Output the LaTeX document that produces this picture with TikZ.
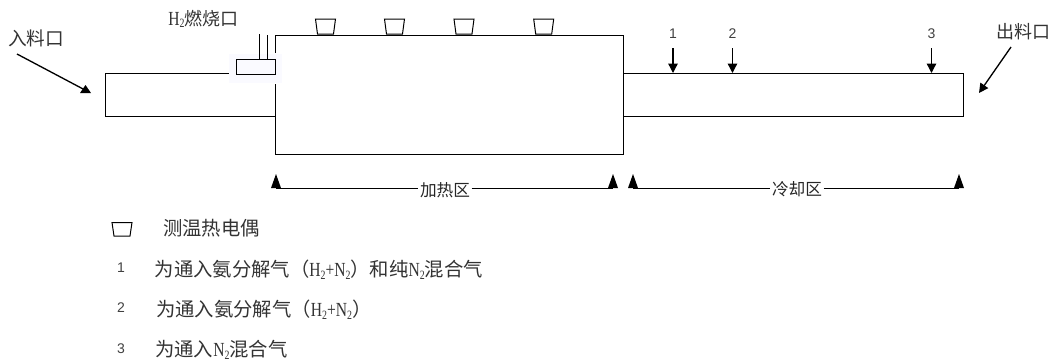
\documentclass[tikz,border=0pt]{standalone}
\usepackage{fontspec}
\setmainfont{Liberation Serif}
\newfontfamily\cjk{Noto Sans CJK SC}
\newfontfamily\dig{Liberation Sans}
\newfontfamily\latf[FakeStretch=0.78]{Liberation Serif}
\usetikzlibrary{arrows.meta}
\newcommand{\subtwo}{\raisebox{-0.3ex}{\fontsize{9.5}{10}\selectfont 2}}
\newcommand{\lat}{\fontsize{15}{16}\selectfont\latf}
\newcommand{\han}{\fontsize{14.5}{16}\selectfont\cjk}
\tikzset{
  x=0.75pt,y=-0.75pt,
  line/.style={draw=black,line width=0.75pt},
  txt/.style={inner sep=0pt,font=\fontsize{13.5}{15}\selectfont\cjk,text=black!80},
  legend/.style={inner sep=0pt,font=\han,text=black!80},
  zone/.style={inner sep=1pt,font=\fontsize{12.5}{14}\selectfont\cjk,text=black!85},
  num/.style={inner sep=0pt,font=\fontsize{10.5}{12}\selectfont\dig,text=black!75},
  arrow/.style={draw=black,line width=1pt,-{Triangle[length=7pt,width=7pt]}},
  plain/.style={draw=black,line width=1pt},
  tc/.style={line,fill=white},
  tip/.style={fill=black,draw=none},
}
\newcommand{\couple}[2]{\draw[tc] (#1-10,#2) -- (#1+10,#2) -- (#1+8,#2+15) -- (#1-8,#2+15) -- cycle;}
\begin{document}
\begin{tikzpicture}
\useasboundingbox (0,0) rectangle (1054,362);
% tubes and furnace
\coordinate (lt) at (105,73.5); \coordinate (lb) at (275.5,116);
\draw[line] (229,73.5) -- (lt) |- (lb);
\draw[line] (275.5,53) -- (275.5,35) -- (623,35) -- (623,154.5) -- (275.5,154.5) -- (275.5,84);
\draw[line] (623,73.5) -- (963,73.5) -- (963,116) -- (623,116);
% burner
\fill[blue!2] (229,54) rectangle (282,83);
\draw[line] (275.5,36) -- (275.5,53);
\node[line,fill=blue!2,minimum width=29.5pt,minimum height=11pt,inner sep=0pt,anchor=north west] (burner) at (235.5,59) {};
\coordinate (p1) at (259.5,34); \coordinate (p2) at (267.5,35);
\draw[line] (p1) -- (p1 |- burner.north);
\draw[line] (p2) -- (p2 |- burner.north);
\node[txt,anchor=west] (burnlab) at (168,19) {\lat H\subtwo{}\fontsize{13.5}{15}\selectfont\cjk 燃烧口};
% thermocouples
\couple{325.5}{19}
\couple{394.5}{19}
\couple{464}{19}
\couple{543.7}{19}
% labels and arrows
\node[txt,anchor=west,font=\fontsize{14}{15}\selectfont\cjk] (in) at (8,38) {入料口};
\coordinate (ina) at (17,54); \coordinate (inb) at (85,90);
\draw[plain] (ina) -- (inb);
\path[tip] (80,93) -- (85.5,85) -- (91,93) -- cycle;
\node[txt] (out) at (1023,32) {出料口};
\coordinate (outa) at (1011,47); \coordinate (outb) at (979,93);
\draw[arrow] (outa) -- (outb);
\foreach \n/\x in {1/673,2/732.5,3/931.5}{
  \node[num] (g\n) at (\x,33.5) {\n};
  \coordinate (ga\n) at (\x,48); \coordinate (gb\n) at (\x,73);
  \draw[arrow] (ga\n) -- (gb\n);
}
% zones
\node[zone] (heat) at (445,190) {加热区};
\node[zone] (cool) at (797,189.5) {冷却区};
\coordinate (h1) at (276,188); \coordinate (h2) at (613,188);
\coordinate (c1) at (633,188); \coordinate (c2) at (959,188);
\draw[line] (h1) -- (h1 -| heat.west); \draw[line] (h2 -| heat.east) -- (h2);
\draw[line] (c1) -- (c1 -| cool.west); \draw[line] (c2 -| cool.east) -- (c2);
\foreach \c in {h1,h2,c1,c2}{
  \path[tip] (\c) ++(-5,0) -- ++(5,-14) -- ++(5,14) -- cycle;
}
% legend
\draw[line] (112,222.5) -- (132,222.5) -- (130,236) -- (114,236) -- cycle;
\node[legend,anchor=west] (l0) at (163,228) {测温热电偶};
\node[num] (n1) at (121,268) {1};
\node[num] (n2) at (121,308) {2};
\node[num] (n3) at (121,349) {3};
\node[legend,anchor=west] (l1) at (154.5,270) {为通入氨分解气（\lat H\subtwo{}+N\subtwo{}\han）和纯\lat N\subtwo{}\han 混合气};
\node[legend,anchor=west] (l2) at (156,310) {为通入氨分解气（\lat H\subtwo{}+N\subtwo{}\han）};
\node[legend,anchor=west] (l3) at (155,350) {为通入\lat N\subtwo{}\han 混合气};
\end{tikzpicture}
\end{document}
